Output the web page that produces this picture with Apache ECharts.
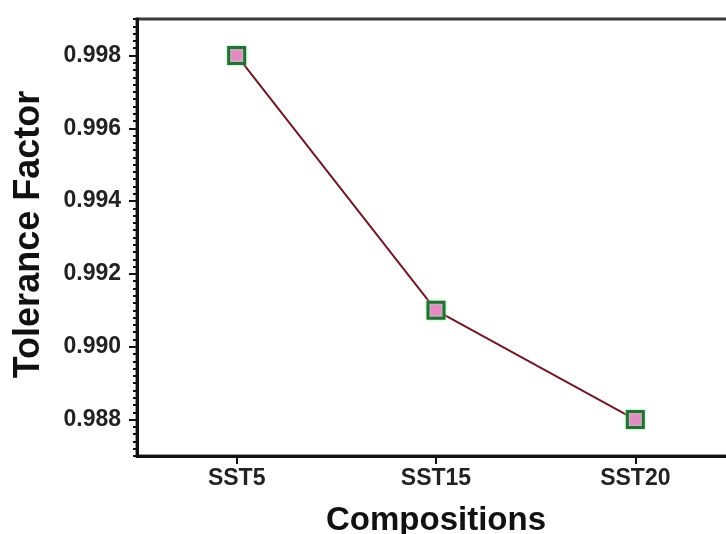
<!DOCTYPE html>
<html>
<head>
<meta charset="utf-8">
<script src="https://cdn.jsdelivr.net/npm/echarts@6/dist/echarts.min.js"></script>
<style>
html,body{margin:0;padding:0;background:#fff;}
#c{width:726px;height:534px;}
</style>
</head>
<body>
<div id="c"></div>
<script>
const categories = ['SST5', 'SST15', 'SST20'];
const toleranceFactor = [0.998, 0.991, 0.988];
const yTickLabels = [0.988, 0.990, 0.992, 0.994, 0.996, 0.998];

const chart = echarts.init(document.getElementById('c'), null, {renderer: 'canvas'});
const font = 'Liberation Sans, Arial, Helvetica, sans-serif';
chart.setOption({
  animation: false,
  backgroundColor: '#ffffff',
  grid: {
    left: 137, top: 19, width: 598, height: 437,
    outerBoundsMode: 'none',
    show: true, borderColor: '#3a3a3a', borderWidth: 3, containLabel: false
  },
  xAxis: {
    type: 'category',
    data: categories,
    boundaryGap: true,
    name: 'Compositions',
    nameLocation: 'middle',
    nameGap: 48,
    nameTextStyle: {fontFamily: font, fontWeight: 'bold', fontSize: 33, color: '#111'},
    axisLine: {lineStyle: {color: '#111', width: 3}},
    axisTick: {show: true, alignWithLabel: true, inside: false, length: 8, lineStyle: {color: '#111', width: 2}},
    axisLabel: {margin: 11, fontFamily: font, fontWeight: 'bold', fontSize: 23, color: '#222'},
    splitLine: {show: false}
  },
  yAxis: [{
    type: 'value',
    min: 0.987,
    max: 0.999,
    name: 'Tolerance Factor',
    nameLocation: 'middle',
    nameGap: 90,
    nameRotate: 90,
    nameTextStyle: {fontFamily: font, fontWeight: 'bold', fontSize: 36, color: '#111', padding: [0, 0, 0, 6]},
    axisLine: {show: true, lineStyle: {color: '#111', width: 3}},
    axisTick: {show: true, customValues: yTickLabels, length: 8, lineStyle: {color: '#111', width: 2}},
    axisLabel: {customValues: yTickLabels, margin: 16, fontFamily: font, fontWeight: 'bold', fontSize: 23, color: '#222',
      formatter: v => v.toFixed(3)},
    splitLine: {show: false}
  }, {
    type: 'value',
    min: 0.987,
    max: 0.999,
    interval: 0.0002,
    position: 'left',
    axisLine: {show: false},
    axisTick: {show: true, length: 4, lineStyle: {color: '#111', width: 2}},
    axisLabel: {show: false},
    splitLine: {show: false}
  }],
  series: [{
    type: 'line',
    data: toleranceFactor,
    yAxisIndex: 0,
    symbol: 'rect',
    symbolSize: 16,
    lineStyle: {color: '#6e1a26', width: 2},
    itemStyle: {color: '#e58ac4', borderColor: '#2b6a3c', borderWidth: 3, shadowColor: '#7dff8a', shadowBlur: 3},
    z: 5
  }]
});
</script>
</body>
</html>
